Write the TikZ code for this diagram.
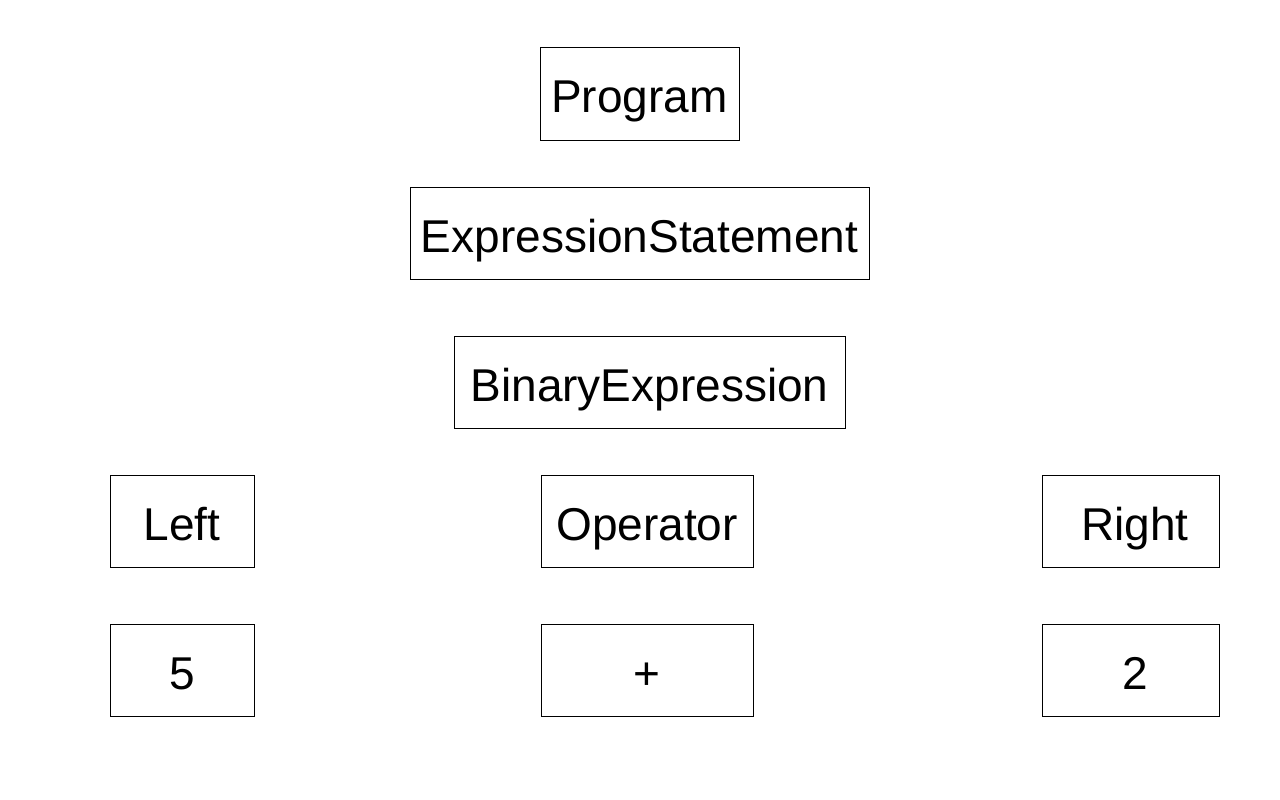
\documentclass[tikz,border=0pt]{standalone}
\usepackage{fontspec}
\setmainfont{Liberation Sans}
\begin{document}
\begin{tikzpicture}[x=1pt,y=-1pt,
  box/.style={draw=black, line width=1pt, minimum height=92pt, inner sep=0pt,
    text height=38pt, text depth=0pt, font=\fontsize{46}{46}\selectfont}]
\useasboundingbox (0,0) rectangle (1280,800);
\node[box, minimum width=199pt] (program) at (639.5,94) {Program};
\node[box, minimum width=459pt] (exprstmt) at (639.5,233) {ExpressionStatement};
\node[box, minimum width=391pt] (binexpr) at (649.5,382) {BinaryExpression};
\node[box, minimum width=144pt] (left) at (182,521) {Left};
\node[box, minimum width=212pt] (operator) at (647,521) {Operator};
\node[box, minimum width=177pt] (right) at (1130.5,521) {\hspace*{9pt}Right};
\node[box, minimum width=144pt] (five) at (182,670) {5};
\node[box, minimum width=212pt] (plus) at (647,670) {+};
\node[box, minimum width=177pt] (two) at (1130.5,670) {\hspace*{9pt}2};
\end{tikzpicture}
\end{document}
